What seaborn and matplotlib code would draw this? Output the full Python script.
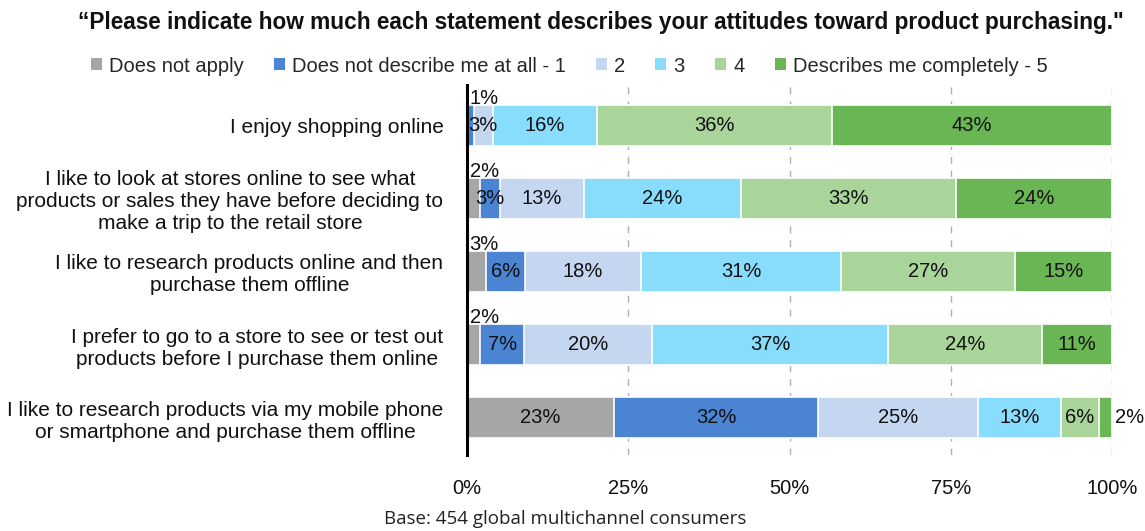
import numpy as np
import pandas as pd
import matplotlib
matplotlib.use("Agg")
import matplotlib.pyplot as plt
from matplotlib.patches import Patch
import seaborn as sns

# Survey statements (rows, top to bottom)
statements = [
    "I enjoy shopping online",
    "I like to look at stores online to see what\nproducts or sales they have before deciding to\nmake a trip to the retail store",
    "I like to research products online and then\npurchase them offline",
    "I prefer to go to a store to see or test out\nproducts before I purchase them online",
    "I like to research products via my mobile phone\nor smartphone and purchase them offline",
]

# Response categories (stack order, left to right)
responses = ["Does not apply", "Does not describe me at all - 1", "2", "3", "4",
             "Describes me completely - 5"]

# Percent of respondents per statement, one list per response category
does_not_apply = [0, 2, 3, 2, 23]
score_1 = [1, 3, 6, 7, 32]
score_2 = [3, 13, 18, 20, 25]
score_3 = [16, 24, 31, 37, 13]
score_4 = [36, 33, 27, 24, 6]
score_5 = [43, 24, 15, 11, 2]

colors = ["#a6a6a6", "#4a84d2", "#c5d6f0", "#89ddfc", "#a9d49a", "#6ab554"]

sns.set_theme(style="white")
plt.rcParams["font.family"] = ["Liberation Sans", "DejaVu Sans"]

series = np.array([does_not_apply, score_1, score_2, score_3, score_4, score_5], dtype=float)
shares = series / series.sum(axis=0) * 100.0
cum_right = np.cumsum(shares, axis=0)
cum_left = cum_right - shares

fig = plt.figure(figsize=(11.45, 5.31), dpi=100)
ax = fig.add_axes([467 / 1145, 1 - 455 / 531, (1112 - 467) / 1145, (455 - 85) / 531])

# Stacked bars: draw cumulative totals from the outermost layer inwards
for k in range(len(responses) - 1, -1, -1):
    df = pd.DataFrame({"statement": statements, "value": cum_right[k]})
    sns.barplot(data=df, x="value", y="statement", orient="h", color=colors[k],
                width=0.56, edgecolor="white", linewidth=1.2, saturation=1,
                ax=ax, zorder=2)

# Segment value labels
fs = 14.5
for k in range(len(responses)):
    for i in range(len(statements)):
        v = int(series[k, i])
        if v == 0:
            continue
        left = cum_left[k, i]
        right = cum_right[k, i]
        txt = f"{v}%"
        if (left < 0.5 and shares[k, i] < 4) or (i == 0 and k == 1):
            # tiny leading segments: label sits above the bar start
            ax.text(0.4, i - 0.37, txt, ha="left", va="center", fontsize=fs,
                    color="#111111", zorder=5)
        elif right > 99.5 and shares[k, i] < 4:
            # tiny trailing segment: label sits past the bar end
            ax.text(100.5, i, txt, ha="left", va="center", fontsize=fs,
                    color="#111111", zorder=5, clip_on=False)
        else:
            ax.text((left + right) / 2, i, txt, ha="center", va="center",
                    fontsize=fs, color="#111111", zorder=5)

ax.set_xlim(0, 100)
ax.set_ylim(4.51, -0.55)
ax.set_xticks([0, 25, 50, 75, 100])
ax.set_xticklabels(["0%", "25%", "50%", "75%", "100%"])
for x in [25, 50, 75, 100]:
    ax.axvline(x, color="#b0b0b0", linestyle=(0, (5, 5)), linewidth=1.0, zorder=1)

ax.set_xlabel("")
ax.set_ylabel("")
ax.tick_params(axis="x", length=0, pad=17, labelsize=fs, labelcolor="#111111")
ax.tick_params(axis="y", length=0, pad=17, labelsize=15, labelcolor="#111111")
for lab in ax.get_yticklabels():
    lab.set_multialignment("center")

for side in ["top", "right", "bottom"]:
    ax.spines[side].set_visible(False)
ax.spines["left"].set_color("black")
ax.spines["left"].set_linewidth(2.2)
ax.spines["left"].set_zorder(6)

fig.text(601 / 1145, 1 - 23 / 531,
         "\u201cPlease indicate how much each statement describes your attitudes toward product purchasing.\"",
         ha="center", va="center", fontsize=16.3, fontweight="bold", color="#111111")

handles = [Patch(facecolor=c, edgecolor="none") for c in colors]
fig.legend(handles, responses, loc="center", bbox_to_anchor=(569 / 1145, 1 - 66 / 531),
           ncol=6, frameon=False, fontsize=fs, handlelength=0.55, handleheight=0.55,
           handletextpad=0.35, columnspacing=1.5, borderaxespad=0)

fig.text(565 / 1145, 1 - 519 / 531, "Base: 454 global multichannel consumers",
         ha="center", va="center", fontsize=13.5, family=["Open Sans", "DejaVu Sans"],
         color="#222222")

fig.savefig("out.png", dpi=100)
